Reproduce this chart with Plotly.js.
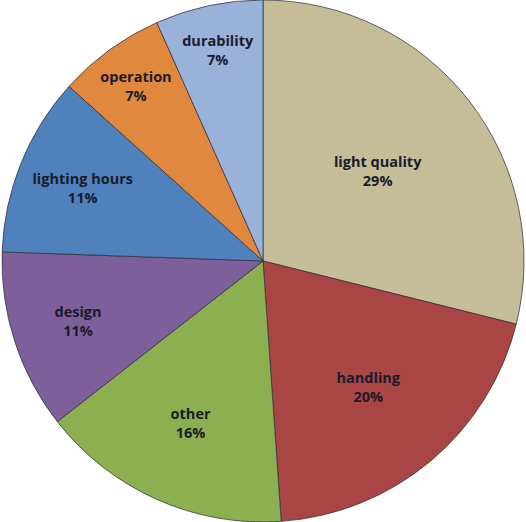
<!DOCTYPE html>
<html>
<head>
<meta charset="utf-8">
<script src="https://cdn.plot.ly/plotly-3.0.1.min.js"></script>
<style>html,body{margin:0;padding:0;background:#fff;}#chart{width:526px;height:522px;}</style>
</head>
<body>
<div id="chart"></div>
<script>
const categories = ["light quality", "handling", "other", "design", "lighting hours", "operation", "durability"];
const counts = [13, 9, 7, 5, 5, 3, 3];
const sliceColors = ["#C4BD97", "#A94544", "#8CB050", "#7D5F9B", "#4F81BD", "#E0883E", "#9AB2D9"];

Plotly.newPlot("chart", [{
  type: "pie",
  labels: categories,
  values: counts,
  sort: false,
  direction: "clockwise",
  rotation: 0,
  marker: {colors: sliceColors, line: {color: "rgba(50,50,60,0.75)", width: 1}},
  texttemplate: "<b>%{label}</b><br><b>%{percent:.0%}</b>",
  textposition: "inside",
  insidetextorientation: "horizontal",
  textfont: {family: "Open Sans, sans-serif", size: 14.5, color: "#1b1b2b"},
  hoverinfo: "none",
  showlegend: false,
  domain: {x: [0, 1], y: [0, 1]}
}], {
  width: 526, height: 522,
  margin: {l: 0, r: 0, t: 0, b: 0},
  paper_bgcolor: "#ffffff",
  showlegend: false
}, {displayModeBar: false, staticPlot: true});
</script>
</body>
</html>
